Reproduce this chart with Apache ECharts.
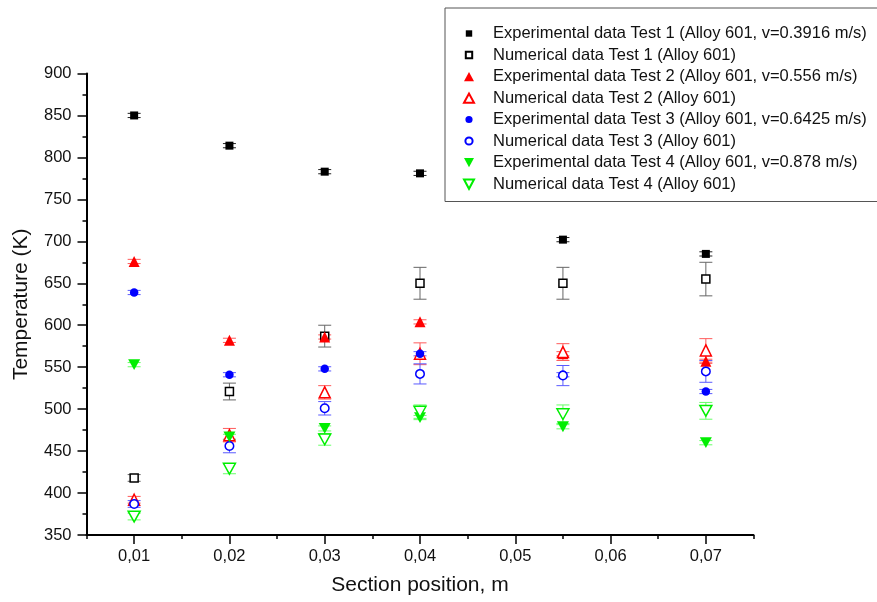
<!DOCTYPE html>
<html>
<head>
<meta charset="utf-8">
<script src="https://cdn.jsdelivr.net/npm/echarts@6/dist/echarts.min.js"></script>
<style>html,body{margin:0;padding:0;background:#fff;}#c{width:877px;height:602px;}</style>
</head>
<body>
<div id="c"></div>
<script>
// ---- data ----
const positions = [0.01, 0.02, 0.03, 0.04, 0.055, 0.07];
const xTickLabels = [0.01, 0.02, 0.03, 0.04, 0.05, 0.06, 0.07];

const exp1 = [850, 814, 783, 781, 702, 685];
const exp1Err = [2.5, 2.5, 2.5, 2.5, 2.5, 2.5];
const num1 = [418, 521, 587, 650, 650, 655];
const num1Err = [4, 10, 13, 19, 19, 20];

const exp2 = [676, 582, 586, 604, 566, 557];
const exp2Err = [2.5, 2.5, 2.5, 2.5, 2.5, 2.5];
const num2 = [392, 469, 520, 566, 568, 570];
const num2Err = [4, 8, 8, 13, 10, 14];

const exp3 = [639, 541, 548, 566, 541, 521];
const exp3Err = [2.5, 2.5, 2.5, 2.5, 2.5, 2.5];
const num3 = [387, 456, 501, 542, 540, 545];
const num3Err = [4, 8, 8, 12, 12, 13];

const exp4 = [553, 467, 477, 490, 479, 460];
const exp4Err = [2.5, 3, 3, 2.5, 2.5, 2.5];
const num4 = [372, 429, 464, 497, 494, 498];
const num4Err = [4, 6, 7, 8, 11, 10];

const names = [
  'Experimental data Test 1 (Alloy 601, v=0.3916 m/s)',
  'Numerical data Test 1 (Alloy 601)',
  'Experimental data Test 2 (Alloy 601, v=0.556 m/s)',
  'Numerical data Test 2 (Alloy 601)',
  'Experimental data Test 3 (Alloy 601, v=0.6425 m/s)',
  'Numerical data Test 3 (Alloy 601)',
  'Experimental data Test 4 (Alloy 601, v=0.878 m/s)',
  'Numerical data Test 4 (Alloy 601)'
];

// ---- styling ----
const FONT = 'Liberation Sans, Arial, sans-serif';
const downTri = 'path://M0,0L10,0L5,9Z';
// legend icons padded inside a 10x10 frame (corner moves keep the frame)
const FRAME = 'M0,0M10,10';
const lgSquare = 'path://' + FRAME + 'M1.8,1.8H8.2V8.2H1.8Z';
const lgCircle = 'path://' + FRAME + 'M1.4,5A3.6,3.6,0,1,1,8.6,5A3.6,3.6,0,1,1,1.4,5Z';
const lgUp = 'path://' + FRAME + 'M0,9.8L5,0.5L10,9.8Z';
const lgDown = 'path://' + FRAME + 'M0,0.5L10,0.5L5,9.8Z';

const defs = [
  {vals: exp1, err: exp1Err, symbol: 'rect', size: 8, lg: lgSquare, color: '#000', hollow: false, errColor: '#222'},
  {vals: num1, err: num1Err, symbol: 'rect', size: 8, lg: lgSquare, color: '#000', hollow: true, errColor: '#666'},
  {vals: exp2, err: exp2Err, symbol: 'triangle', size: 11, lg: lgUp, color: '#ff0000', hollow: false, errColor: '#ff5a5a'},
  {vals: num2, err: num2Err, symbol: 'triangle', size: 11, lg: lgUp, color: '#ff0000', hollow: true, errColor: '#ff5a5a'},
  {vals: exp3, err: exp3Err, symbol: 'circle', size: 8.5, lg: lgCircle, color: '#0000ff', hollow: false, errColor: '#5a5aff'},
  {vals: num3, err: num3Err, symbol: 'circle', size: 8.5, lg: lgCircle, color: '#0000ff', hollow: true, errColor: '#5a5aff'},
  {vals: exp4, err: exp4Err, symbol: downTri, size: 12, lg: lgDown, color: '#00ee00', hollow: false, errColor: '#66ff66'},
  {vals: num4, err: num4Err, symbol: downTri, size: 12, lg: lgDown, color: '#00ee00', hollow: true, errColor: '#66ff66'}
];

function errRender(color) {
  return function (params, api) {
    const x = api.value(0), y = api.value(1), e = api.value(2);
    const top = api.coord([x, y + e]);
    const bot = api.coord([x, y - e]);
    const hw = 6.5;
    const st = {stroke: color, lineWidth: 1};
    return {
      type: 'group',
      children: [
        {type: 'line', shape: {x1: top[0], y1: top[1], x2: bot[0], y2: bot[1]}, style: st},
        {type: 'line', shape: {x1: top[0] - hw, y1: top[1], x2: top[0] + hw, y2: top[1]}, style: st},
        {type: 'line', shape: {x1: bot[0] - hw, y1: bot[1], x2: bot[0] + hw, y2: bot[1]}, style: st}
      ]
    };
  };
}

const series = [];
defs.forEach((d, i) => {
  series.push({
    type: 'custom',
    name: names[i] + ' err',
    xAxisIndex: 0, yAxisIndex: 0,
    renderItem: errRender(d.errColor),
    encode: {x: 0, y: 1},
    data: positions.map((p, k) => [p, d.vals[k], d.err[k]]),
    z: 2,
    silent: true
  });
});
defs.forEach((d, i) => {
  series.push({
    type: 'scatter',
    name: names[i],
    xAxisIndex: 0, yAxisIndex: 0,
    symbol: d.symbol,
    symbolSize: d.size,
    symbolKeepAspect: true,
    itemStyle: d.hollow
      ? {color: '#ffffff', borderColor: d.color, borderWidth: 1.5, opacity: 1}
      : {color: d.color, opacity: 1},
    data: positions.map((p, k) => [p, d.vals[k]]),
    z: 3
  });
});

const fmt = v => v.toFixed(2).replace('.', ',');

const option = {
  backgroundColor: '#ffffff',
  animation: false,
  textStyle: {fontFamily: FONT},
  grid: {left: 86.5, right: 123.5, top: 73.5, bottom: 67},
  legend: {
    orient: 'vertical',
    left: 445, top: 8,
    padding: [17, 14, 9, 18],
    itemGap: 4.5,
    itemWidth: 10, itemHeight: 10,
    borderColor: '#555', borderWidth: 1, borderRadius: 0,
    backgroundColor: '#ffffff',
    data: names.map((n, i) => ({name: n, icon: defs[i].lg})),
    textStyle: {fontFamily: FONT, fontSize: 16.5, color: '#111', lineHeight: 16, padding: [0, 0, 0, 14]}
  },
  xAxis: [
    {
      type: 'value', min: 0.005, max: 0.075, interval: 0.005,
      position: 'bottom',
      axisLine: {show: true, onZero: false, lineStyle: {color: '#000', width: 2}},
      axisTick: {show: true, length: 4, lineStyle: {color: '#000', width: 1.5}},
      axisLabel: {show: false},
      splitLine: {show: false},
      name: 'Section position, m', nameLocation: 'middle', nameGap: 40,
      nameTextStyle: {fontFamily: FONT, fontSize: 21, color: '#111'}
    },
    {
      type: 'value', min: 0.005, max: 0.075, interval: 0.005,
      position: 'bottom',
      axisLine: {show: false, onZero: false},
      axisTick: {show: true, length: 9, customValues: xTickLabels, lineStyle: {color: '#000', width: 1.5}},
      axisLabel: {show: true, customValues: xTickLabels, formatter: fmt, margin: 13,
        fontFamily: FONT, fontSize: 16.5, color: '#111'},
      splitLine: {show: false}
    }
  ],
  yAxis: {
    type: 'value', min: 350, max: 900, interval: 50,
    axisLine: {show: true, onZero: false, lineStyle: {color: '#000', width: 2}},
    axisTick: {show: true, length: 9, lineStyle: {color: '#000', width: 1.5}},
    minorTick: {show: true, splitNumber: 2, length: 4, lineStyle: {color: '#000', width: 1.5}},
    axisLabel: {margin: 15, fontFamily: FONT, fontSize: 16.5, color: '#111'},
    splitLine: {show: false},
    name: 'Temperature (K)', nameLocation: 'middle', nameGap: 55,
    nameTextStyle: {fontFamily: FONT, fontSize: 21, color: '#111'}
  },
  series: series
};

const chart = echarts.init(document.getElementById('c'), null, {renderer: 'canvas'});
chart.setOption(option);
</script>
</body>
</html>
